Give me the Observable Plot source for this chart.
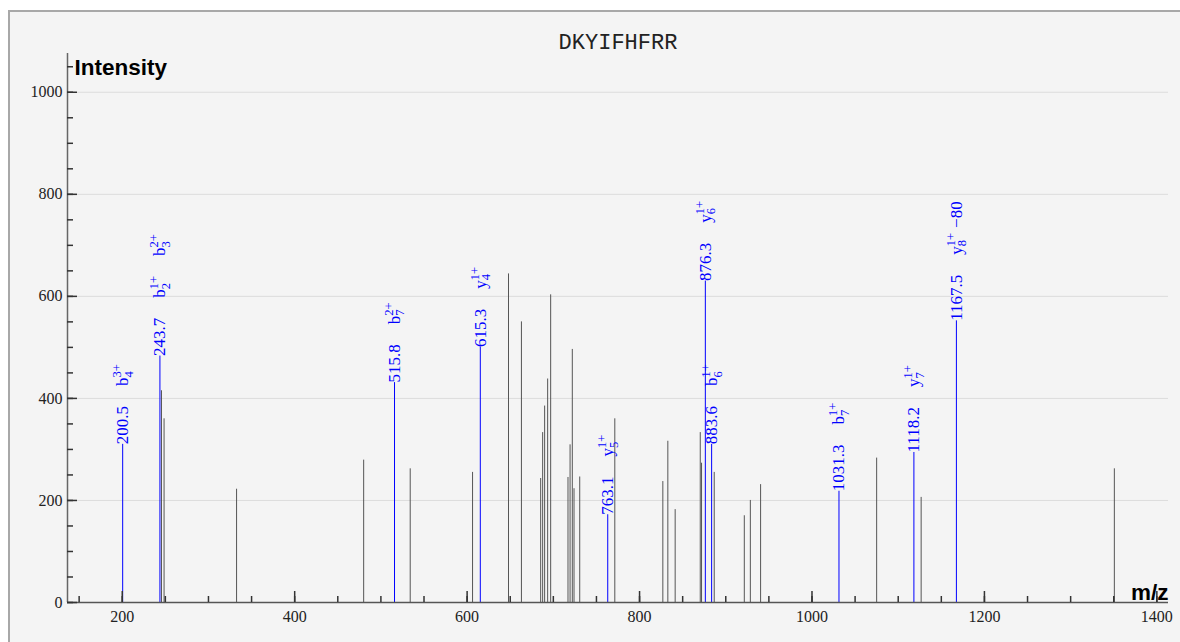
<!DOCTYPE html>
<html>
<head>
<meta charset="utf-8">
<script src="https://cdn.jsdelivr.net/npm/d3@7"></script>
<script src="https://cdn.jsdelivr.net/npm/@observablehq/plot@0.6"></script>
<style>
  html, body { margin: 0; padding: 0; background: #ffffff; }
  #wrap { position: relative; width: 1180px; height: 642px; overflow: hidden; }
  #panel { position: absolute; left: 8px; top: 10px; width: 1190px; height: 650px;
           background: #f4f4f4; border-left: 2px solid #a8a8a8; border-top: 2px solid #a8a8a8; }
  #chart { position: absolute; left: 0; top: 0; }
</style>
</head>
<body>
<div id="wrap"><div id="panel"></div><div id="chart"></div></div>
<script>
// ---- data ----
const title = "DKYIFHFRR";
const yAxisLabel = "Intensity";
const xAxisLabel = "m/z";

// unannotated peaks
const grayMz  = [245.5, 248.5, 332.6, 480.0, 534.0, 606.3, 648.0, 663.0, 685.3, 687.6, 689.9, 693.4, 696.9,
                 717.0, 719.4, 722.0, 724.0, 730.6, 771.3, 827.0, 832.8, 841.3, 870.4, 871.9, 886.6,
                 921.5, 928.5, 940.4, 1075.0, 1126.6, 1350.7];
const grayInt = [415, 360, 222, 279, 262, 255, 644, 550, 243, 333, 385, 438, 603,
                 245, 309, 496, 223, 246, 360, 237, 316, 182, 333, 273, 255,
                 170, 200, 231, 283, 206, 262];

// annotated peaks
const annMz  = [200.5, 243.7, 515.8, 615.3, 763.1, 876.3, 883.6, 1031.3, 1118.2, 1167.5];
const annInt = [310, 483, 431, 501, 172, 630, 310, 218, 294, 552];
// ion labels: ion letter, subscript, superscript, optional suffix
const annIons = [
  [["b", "4", "3+"]],
  [["b", "2", "1+"], ["b", "3", "2+"]],
  [["b", "7", "2+"]],
  [["y", "4", "1+"]],
  [["y", "5", "1+"]],
  [["y", "6", "1+"]],
  [["b", "6", "1+"]],
  [["b", "7", "1+"]],
  [["y", "7", "1+"]],
  [["y", "8", "1+", "\u221280"]]
];

const xDomain = [136.5, 1413.5];
const yDomain = [0, 1076];
const xMinorTicks = d3.range(150, 1401, 50);
const xMajorTicks = [200, 400, 600, 800, 1000, 1200, 1400];
const yMinorTicks = d3.range(0, 1051, 50);
const yMajorTicks = [0, 200, 400, 600, 800, 1000];
const yGrid = [200, 400, 600, 800, 1000];

const gray = grayMz.map((mz, i) => ({mz, intensity: grayInt[i]}));
const ann = annMz.map((mz, i) => ({mz, intensity: annInt[i], ions: annIons[i]}));

const serif = "'Liberation Serif', 'Times New Roman', serif";
const sans = "'Liberation Sans', Arial, sans-serif";
const plain = d => String(d);

const svg = Plot.plot({
  width: 1180,
  height: 642,
  marginLeft: 67,
  marginRight: 12,
  marginTop: 53,
  marginBottom: 40,
  style: {background: "transparent", fontFamily: serif, fontSize: "16px", color: "#222"},
  x: {domain: xDomain},
  y: {domain: yDomain},
  marks: [
    Plot.gridY(yGrid, {stroke: "#dcdcdc", strokeOpacity: 1, strokeWidth: 1}),
    Plot.ruleX(gray, {x: "mz", y1: 0, y2: "intensity", stroke: "#555", strokeWidth: 1}),
    Plot.ruleX(ann, {x: "mz", y1: 0, y2: "intensity", stroke: "#0000ff", strokeWidth: 1}),
    Plot.text(ann, {x: "mz", y: "intensity", text: d => d.mz.toFixed(1), rotate: -90,
      textAnchor: "start", lineAnchor: "middle", dx: 0, fill: "#0000ff",
      fontSize: 17, fontFamily: serif}),
    // axis lines
    Plot.ruleY([0], {stroke: "#555", strokeWidth: 1.5}),
    Plot.ruleX([xDomain[0]], {stroke: "#666", strokeWidth: 1.5}),
    // ticks (pointing inward)
    Plot.axisX({ticks: xMinorTicks, tickSize: -6, tickFormat: () => "", label: null, stroke: "#333", strokeWidth: 1.5}),
    Plot.axisX({ticks: xMajorTicks, tickSize: -11, tickFormat: () => "", label: null, stroke: "#333", strokeWidth: 1.5}),
    Plot.axisX({ticks: xMajorTicks, tickSize: 0, tickPadding: 8, tickFormat: plain, label: null, fill: "#222", fontSize: 16}),
    Plot.axisY({ticks: yMinorTicks, tickSize: -6, tickFormat: () => "", label: null, stroke: "#333", strokeWidth: 1.5}),
    Plot.axisY({ticks: yMajorTicks, tickSize: -10, tickFormat: () => "", label: null, stroke: "#333", strokeWidth: 1.5}),
    Plot.axisY({ticks: yMajorTicks, tickSize: 0, tickPadding: 5, tickFormat: plain, label: null, fill: "#222", fontSize: 16}),
    // titles
    Plot.text([title], {frameAnchor: "top", dy: -12, lineAnchor: "middle", fontFamily: "'Liberation Mono', 'Courier New', monospace",
      fontSize: 22, fill: "#222"}),
    Plot.text([yAxisLabel], {frameAnchor: "top-left", dx: 7, dy: 14.5, textAnchor: "start", lineAnchor: "middle",
      fontFamily: sans, fontWeight: "bold", fontSize: 22.5, fill: "#000"}),
    Plot.text([xAxisLabel], {frameAnchor: "bottom-right", dx: 0, dy: -9.5, textAnchor: "end", lineAnchor: "middle",
      fontFamily: sans, fontWeight: "bold", fontSize: 22.5, fill: "#000"})
  ]
});

document.getElementById("chart").appendChild(svg);

// build ion labels (letter + stacked subscript/superscript) as tspans after the m/z value
const ns = "http://www.w3.org/2000/svg";
const firstLabel = ann[0].mz.toFixed(1);
let annGroup = null;
svg.querySelectorAll("g").forEach(gr => {
  if (annGroup) return;
  const ts = gr.querySelectorAll(":scope > text");
  if (ts.length === ann.length && ts[0].textContent === firstLabel) annGroup = gr;
});
if (annGroup) {
  const texts = annGroup.querySelectorAll(":scope > text");
  texts.forEach((t, i) => {
    const ions = ann[i].ions;
    let offset = 0; // current baseline shift
    ions.forEach((ion) => {
      const [letter, sub, sup, suffix] = ion;
      const a = document.createElementNS(ns, "tspan");
      a.setAttribute("dx", 20);
      a.setAttribute("dy", -offset);
      offset = 0;
      a.textContent = letter;
      t.appendChild(a);
      const s1 = document.createElementNS(ns, "tspan");
      s1.setAttribute("font-size", 12.5);
      s1.setAttribute("dy", 4.5);
      offset = 4.5;
      s1.textContent = sub;
      t.appendChild(s1);
      const s2 = document.createElementNS(ns, "tspan");
      s2.setAttribute("font-size", 12.5);
      s2.setAttribute("dx", -6.25 * sub.length);
      s2.setAttribute("dy", -11.5);
      offset = -7;
      s2.textContent = sup;
      t.appendChild(s2);
      if (suffix) {
        const s3 = document.createElementNS(ns, "tspan");
        s3.setAttribute("dx", 5);
        s3.setAttribute("dy", -offset);
        offset = 0;
        s3.textContent = suffix;
        t.appendChild(s3);
      }
    });
  });
}
</script>
</body>
</html>
